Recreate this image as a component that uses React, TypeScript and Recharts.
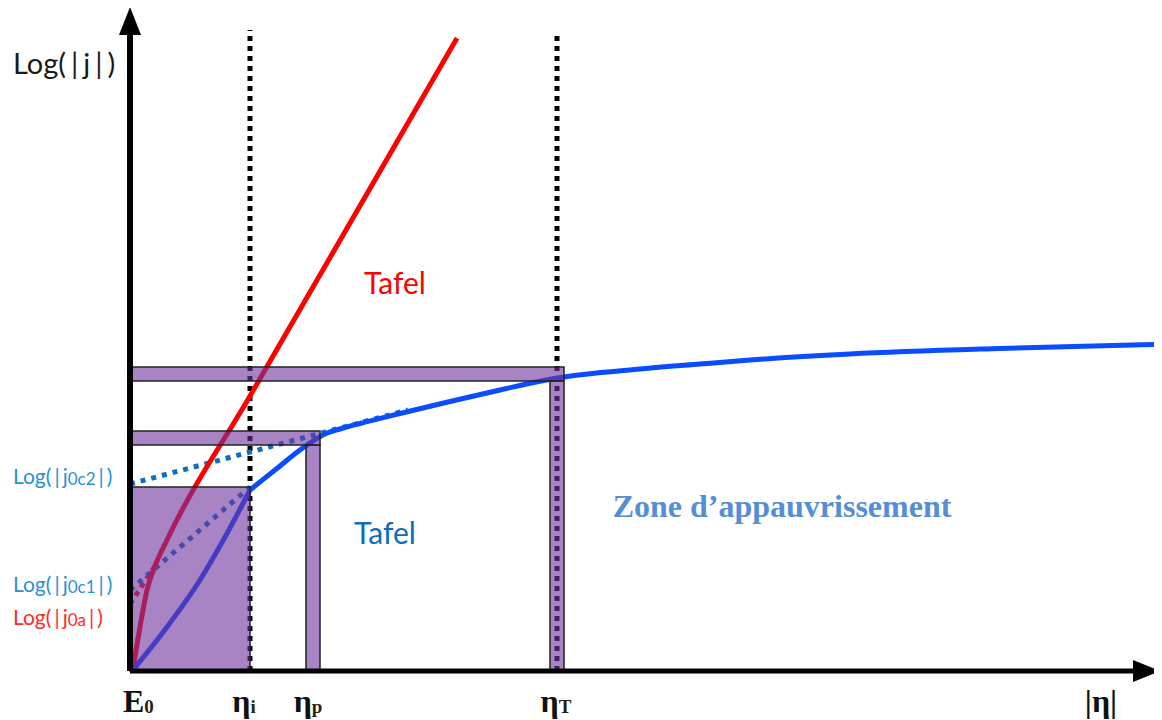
import React from 'react';
import {
  ComposedChart,
  Line,
  XAxis,
  YAxis,
  ReferenceLine,
  ReferenceArea,
  ReferenceDot,
  Scatter,
} from 'recharts';

// Overpotential markers on the |η| axis
const ETA_I = 120;
const ETA_P = 183;
const ETA_T = 427;
const ETA_END = 971;

// log|j| levels reached by the cathodic curve at each overpotential marker
const LOG_J_I = 184;
const LOG_J_P = 233;
const LOG_J_T = 297;

// exchange current densities (intercepts on the log|j| axis)
const LOG_J0A = 67;
const LOG_J0C1 = 81;
const LOG_J0C2 = 187;

// anodic branch (Tafel line + low-overpotential curvature)
const anodicEta = [3, 10, 17, 25, 37, 120, 327];
const anodicLogJ = [3, 44, 81, 105, 131, 275, 633];

// cathodic branch, up to the diffusion-limited plateau
const cathodicEta = [3, 37, 70, 95, 120, 145, 170, 183, 195, 210, 230, 270, 320, 370, 427, 510, 570, 620, 720, 870, 1025];
const cathodicLogJ = [1, 44, 91, 134, 181, 201, 221, 230, 237, 242, 247.5, 257.5, 269.5, 281, 293, 302, 307, 311, 317, 322.5, 326.5];

// extrapolated Tafel lines
const anodicTafelEta = [0, 25];
const anodicTafelLogJ = [LOG_J0A, 105];
const cathodicTafel1Eta = [0, ETA_I];
const cathodicTafel1LogJ = [LOG_J0C1, LOG_J_I];
const cathodicTafel2Eta = [0, 278];
const cathodicTafel2LogJ = [LOG_J0C2, 261];

// axis tick labels
const xTicks = [0, ETA_I, ETA_P, ETA_T, ETA_END];
const xTickText: [string, string][] = [
  ['E', '0'],
  ['η', 'i'],
  ['η', 'p'],
  ['η', 'T'],
  ['|η|', ''],
];
const yTicks = [609, 196, 88, 55];
const yTickSubs = ['', '0c2', '0c1', '0a'];
const yTickColors = ['#1a1a1a', '#2b8fd6', '#2b8fd6', '#ff2a2a'];

const X_MAX = 1030;
const Y_MAX = 660;
const ARROW_Y = 636;
const ARROW_X = 1003;

const zip = (xs: number[], ys: number[]) => xs.map((x, i) => ({ x, y: ys[i] }));

const anodic = zip(anodicEta, anodicLogJ);
const cathodic = zip(cathodicEta, cathodicLogJ);
// the cathodic curve changes regime at ηi, so it is drawn as two pieces
const kink = cathodicEta.indexOf(ETA_I);
const cathodicLow = cathodic.slice(0, kink + 1);
const cathodicHigh = cathodic.slice(kink);
const anodicTafel = zip(anodicTafelEta, anodicTafelLogJ);
const cathodicTafel1 = zip(cathodicTafel1Eta, cathodicTafel1LogJ);
const cathodicTafel2 = zip(cathodicTafel2Eta, cathodicTafel2LogJ);

const BAR_HALF = 7;
const PURPLE = '#6e329d';
const PURPLE_OPACITY = 0.6;
const TOP_Z = 900;
const BLUE = '#0a4cff';

// horizontal nudge of each η label relative to its marker
const xTickShift = [-7, -6, -5, -1, 0];

const EtaTick = (props: any) => {
  const { x, y, payload } = props;
  const idx = xTicks.indexOf(payload.value);
  if (idx < 0) return null;
  const [main, sub] = xTickText[idx];
  const anchor = idx === 0 ? 'start' : 'middle';
  return (
    <text
      x={x + xTickShift[idx]}
      y={y + 33}
      textAnchor={anchor}
      fontFamily="'Liberation Serif', serif"
      fontWeight="bold"
      fontSize={32}
      fill="#111"
    >
      {main}
      {sub && (
        <tspan fontSize={19} dy={1} fill="#2a1e10">
          {sub}
        </tspan>
      )}
    </text>
  );
};

const LogTick = (props: any) => {
  const { y, payload } = props;
  const idx = yTicks.indexOf(payload.value);
  if (idx < 0) return null;
  const sub = yTickSubs[idx];
  const big = idx === 0;
  const gap = big ? 5 : 3;
  return (
    <text
      x={5}
      y={y}
      dominantBaseline="central"
      fontFamily="Lato, 'Noto Sans', sans-serif"
      fontSize={big ? 29 : 21}
      fill={yTickColors[idx]}
    >
      <tspan>Log(</tspan>
      <tspan dx={gap}>|</tspan>
      <tspan dx={gap}>j</tspan>
      {sub && (
        <tspan fontSize={17} dy={3}>
          {sub}
        </tspan>
      )}
      <tspan dx={gap} dy={sub ? -3 : 0}>|</tspan>
      <tspan dx={gap}>)</tspan>
    </text>
  );
};

const UpArrow = (props: any) => {
  const { cx, cy } = props;
  return <path d={`M${cx - 11},${cy} L${cx + 11},${cy} L${cx},${cy - 28} Z`} fill="#000" />;
};

const RightArrow = (props: any) => {
  const { cx, cy } = props;
  return <path d={`M${cx},${cy - 11} L${cx},${cy + 11} L${cx + 27},${cy} Z`} fill="#000" />;
};

const textLabel = (text: string, color: string, family: string, size: number, weight = 'normal') =>
  (props: any) => {
    const vb = props.viewBox || {};
    return (
      <text
        x={vb.x + (vb.width || 0) / 2}
        y={vb.y + (vb.height || 0) / 2}
        textAnchor="middle"
        dominantBaseline="central"
        fontFamily={family}
        fontSize={size}
        fontWeight={weight}
        fill={color}
      >
        {text}
      </text>
    );
  };

const areaStyle = {
  fill: PURPLE,
  fillOpacity: PURPLE_OPACITY,
  stroke: '#222',
  strokeWidth: 1.5,
  zIndex: TOP_Z,
} as any;

export default function App() {
  const W = 1154;
  const H = 712;
  return (
    <div style={{ width: W, height: H }}>
      <ComposedChart width={W} height={H} margin={{ top: 3, right: 2, bottom: 0, left: 0 }}>
        <XAxis
          type="number"
          dataKey="x"
          domain={[0, X_MAX]}
          ticks={xTicks}
          interval={0}
          height={49}
          axisLine={false}
          tickLine={false}
          tick={<EtaTick />}
        />
        <YAxis
          type="number"
          dataKey="y"
          domain={[0, Y_MAX]}
          ticks={yTicks}
          interval={0}
          width={122}
          axisLine={false}
          tickLine={false}
          tick={<LogTick />}
        />

        {/* overpotential guides */}
        <ReferenceLine
          segment={[{ x: ETA_I, y: 0 }, { x: ETA_I, y: 641 }]}
          stroke="#000"
          strokeWidth={5}
          strokeDasharray="5 5"
        />
        <ReferenceLine
          segment={[{ x: ETA_T, y: 0 }, { x: ETA_T, y: 638 }]}
          stroke="#000"
          strokeWidth={5}
          strokeDasharray="5 5"
        />

        {/* extrapolated Tafel lines */}
        <Line data={anodicTafel} dataKey="y" stroke="#ff1010" strokeWidth={5} strokeDasharray="5 5" dot={false} isAnimationActive={false} />
        <Line data={cathodicTafel1} dataKey="y" stroke="#0a6fc2" strokeWidth={5} strokeDasharray="5 6" dot={false} isAnimationActive={false} />
        <Line data={cathodicTafel2} dataKey="y" stroke="#0a6fc2" strokeWidth={5} strokeDasharray="5 6" dot={false} isAnimationActive={false} />

        {/* polarisation curves */}
        <Line data={anodic} dataKey="y" type="monotone" stroke="#ff0000" strokeWidth={5} dot={false} isAnimationActive={false} />
        <Line data={cathodicLow} dataKey="y" type="monotone" stroke={BLUE} strokeWidth={5} dot={false} isAnimationActive={false} />
        <Line data={cathodicHigh} dataKey="y" type="monotone" stroke={BLUE} strokeWidth={5} dot={false} isAnimationActive={false} />

        {/* shaded regions at each overpotential marker */}
        <ReferenceArea x1={0} x2={ETA_I} y1={0} y2={LOG_J_I} {...areaStyle} />
        <ReferenceArea x1={0} x2={ETA_P + BAR_HALF} y1={LOG_J_P - BAR_HALF} y2={LOG_J_P + BAR_HALF} {...areaStyle} />
        <ReferenceArea x1={ETA_P - BAR_HALF} x2={ETA_P + BAR_HALF} y1={0} y2={LOG_J_P - BAR_HALF} {...areaStyle} />
        <ReferenceArea x1={0} x2={ETA_T + BAR_HALF} y1={LOG_J_T - BAR_HALF} y2={LOG_J_T + BAR_HALF} {...areaStyle} />
        <ReferenceArea x1={ETA_T - BAR_HALF} x2={ETA_T + BAR_HALF} y1={0} y2={LOG_J_T - BAR_HALF} {...areaStyle} />

        {/* axes */}
        <ReferenceLine segment={[{ x: 0, y: 0 }, { x: 0, y: ARROW_Y }]} stroke="#000" strokeWidth={6} zIndex={TOP_Z + 10} />
        <ReferenceLine segment={[{ x: 0, y: 0 }, { x: ARROW_X, y: 0 }]} stroke="#000" strokeWidth={5} zIndex={TOP_Z + 10} />
        <Scatter data={[{ x: 0, y: ARROW_Y }]} shape={<UpArrow />} isAnimationActive={false} />
        <Scatter data={[{ x: ARROW_X, y: 0 }]} shape={<RightArrow />} isAnimationActive={false} />

        {/* annotations */}
        <ReferenceDot x={265} y={389} r={0} label={textLabel('Tafel', '#ff0000', 'Lato, sans-serif', 30)} />
        <ReferenceDot x={255} y={139} r={0} label={textLabel('Tafel', '#0b6cc0', 'Lato, sans-serif', 30)} />
        <ReferenceDot
          x={652}
          y={165}
          r={0}
          label={textLabel('Zone d’appauvrissement', '#558ed5', "'Liberation Serif', serif", 32, 'bold')}
        />
      </ComposedChart>
    </div>
  );
}
